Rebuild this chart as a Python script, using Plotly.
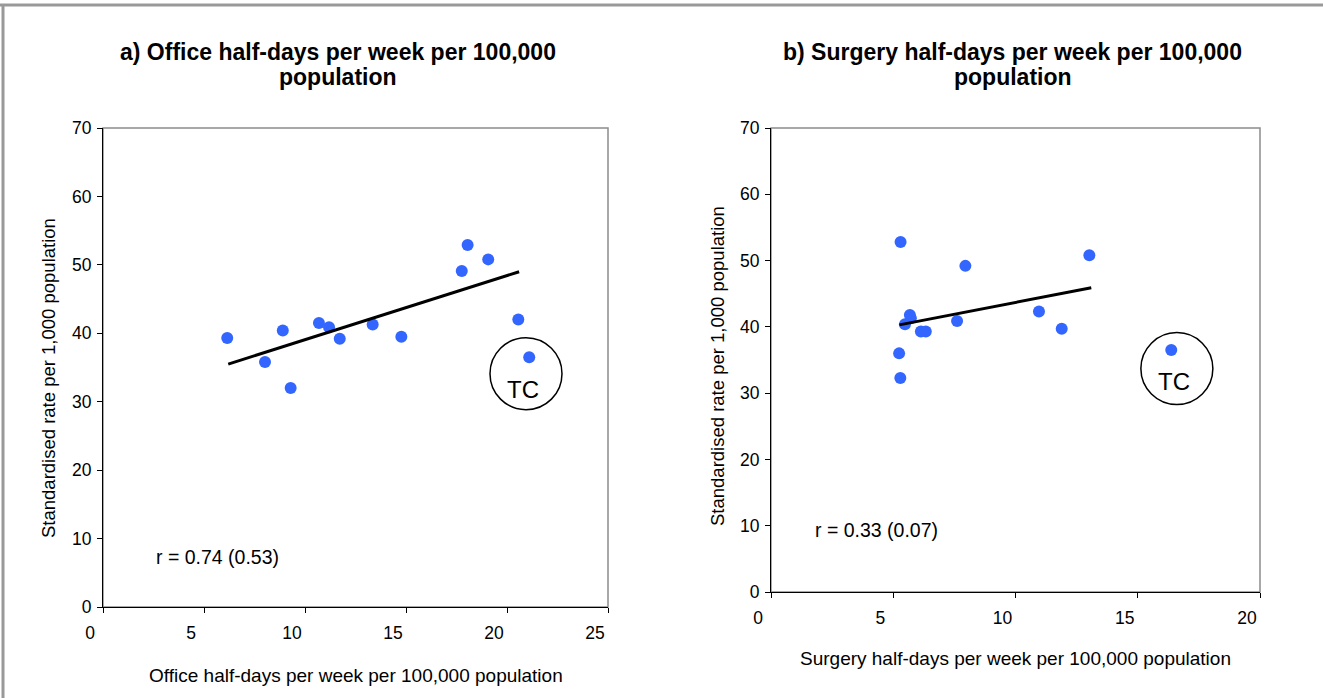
import plotly.graph_objects as go

W, H = 1323, 698

# ---------------- data ----------------
office_x = [6.15, 8.02, 8.90, 9.29, 10.69, 11.19, 11.72, 13.35, 14.77, 17.76, 18.05, 19.07, 20.56]
office_y = [39.3, 35.8, 40.4, 32.0, 41.5, 40.9, 39.2, 41.3, 39.5, 49.1, 52.9, 50.8, 42.0]
office_tc_x = [21.10]
office_tc_y = [36.5]
office_trend_x = [6.2, 20.6]
office_trend_y = [35.5, 49.0]

surgery_x = [5.24, 5.29, 5.48, 5.68, 5.72, 6.13, 6.33, 7.61, 7.95, 10.96, 11.89, 13.02, 5.30]
surgery_y = [36.0, 32.3, 40.4, 41.8, 41.3, 39.3, 39.3, 40.9, 49.2, 42.3, 39.7, 50.8, 52.8]
surgery_tc_x = [16.37]
surgery_tc_y = [36.5]
surgery_trend_x = [5.25, 13.1]
surgery_trend_y = [40.3, 45.9]

y_ticks = [0, 10, 20, 30, 40, 50, 60, 70]
office_x_ticks = [0, 5, 10, 15, 20, 25]
surgery_x_ticks = [0, 5, 10, 15, 20]

title_a = ["<b>a) Office half-days per week per 100,000</b>", "<b>population</b>"]
title_b = ["<b>b) Surgery half-days per week per 100,000</b>", "<b>population</b>"]
xlab_a = "Office half-days per week per 100,000 population"
xlab_b = "Surgery half-days per week per 100,000 population"
ylab = "Standardised rate per 1,000 population"
r_a = "r = 0.74 (0.53)"
r_b = "r = 0.33 (0.07)"

# ---------------- layout helpers (pixel -> paper) ----------------
def px(x):
    return x / W

def py(y):
    return 1 - y / H

FONT = "Liberation Sans, Arial, sans-serif"
BLUE = "#3366ff"

fig = go.Figure()

# left panel
fig.add_trace(go.Scatter(x=office_x + office_tc_x, y=office_y + office_tc_y, mode="markers",
                         marker=dict(color=BLUE, size=12), xaxis="x", yaxis="y", showlegend=False))
fig.add_trace(go.Scatter(x=office_trend_x, y=office_trend_y, mode="lines",
                         line=dict(color="black", width=3), xaxis="x", yaxis="y", showlegend=False))
# right panel
fig.add_trace(go.Scatter(x=surgery_x + surgery_tc_x, y=surgery_y + surgery_tc_y, mode="markers",
                         marker=dict(color=BLUE, size=12), xaxis="x2", yaxis="y2", showlegend=False))
fig.add_trace(go.Scatter(x=surgery_trend_x, y=surgery_trend_y, mode="lines",
                         line=dict(color="black", width=3), xaxis="x2", yaxis="y2", showlegend=False))

axis_common = dict(showgrid=False, zeroline=False, showline=True, linecolor="black", linewidth=1,
                   ticks="outside", ticklen=5, tickcolor="black", tickwidth=1,
                   tickfont=dict(family=FONT, size=17.5, color="black"))

fig.update_layout(
    width=W, height=H,
    margin=dict(l=0, r=0, t=0, b=0, autoexpand=False),
    paper_bgcolor="white", plot_bgcolor="white",
    xaxis=dict(domain=[px(103), px(608)], range=[0, 25], tickvals=office_x_ticks, anchor="y",
               ticklabelshift=-13, ticklabelstandoff=5, **axis_common),
    yaxis=dict(domain=[py(607), py(128)], range=[0, 70], tickvals=y_ticks, anchor="x",
               ticklabelstandoff=2, **axis_common),
    xaxis2=dict(domain=[px(771), px(1260)], range=[0, 20], tickvals=surgery_x_ticks, anchor="y2",
                ticklabelshift=-13, ticklabelstandoff=5, **axis_common),
    yaxis2=dict(domain=[py(592), py(128)], range=[0, 70], tickvals=y_ticks, anchor="x2",
                ticklabelstandoff=2, **axis_common),
)

shapes = []
# gray plot-area frames (top/right visible)
for xr, yr in (("x domain", "y domain"), ("x2 domain", "y2 domain")):
    shapes.append(dict(type="rect", xref=xr, yref=yr, x0=0, x1=1, y0=0, y1=1,
                       line=dict(color="#8c8c8c", width=1.5), layer="below"))
# TC circles
shapes.append(dict(type="circle", xref="x", yref="y", xsizemode="pixel", ysizemode="pixel",
                   xanchor=20.94, yanchor=34.1, x0=-36, x1=36, y0=-36, y1=36,
                   line=dict(color="black", width=1.5)))
shapes.append(dict(type="circle", xref="x2", yref="y2", xsizemode="pixel", ysizemode="pixel",
                   xanchor=16.6, yanchor=33.7, x0=-36, x1=36, y0=-36, y1=36,
                   line=dict(color="black", width=1.5)))
# outer page border (top and left)
shapes.append(dict(type="line", xref="paper", yref="paper", x0=0, x1=1, y0=py(5), y1=py(5),
                   line=dict(color="#999999", width=3)))
shapes.append(dict(type="line", xref="paper", yref="paper", x0=px(3), x1=px(3), y0=0, y1=py(4),
                   line=dict(color="#999999", width=3)))
fig.update_layout(shapes=shapes)

ann = []
tfont = dict(family=FONT, size=23, color="black")
for (line, yy) in zip(title_a, (52, 77)):
    ann.append(dict(text=line, x=px(338), y=py(yy), xref="paper", yref="paper", showarrow=False,
                    font=tfont, xanchor="center", yanchor="middle"))
for (line, yy) in zip(title_b, (52, 77)):
    ann.append(dict(text=line, x=px(1013), y=py(yy), xref="paper", yref="paper", showarrow=False,
                    font=tfont, xanchor="center", yanchor="middle"))
lfont = dict(family=FONT, size=19, color="black")
ann.append(dict(text=xlab_a, x=0.5, y=py(675), xref="x domain", yref="paper", showarrow=False,
                font=lfont, xanchor="center", yanchor="middle"))
ann.append(dict(text=xlab_b, x=0.5, y=py(658), xref="x2 domain", yref="paper", showarrow=False,
                font=lfont, xanchor="center", yanchor="middle"))
yfont = dict(family=FONT, size=18.5, color="black")
ann.append(dict(text=ylab, x=px(48), y=py(378), xref="paper", yref="paper", showarrow=False,
                font=yfont, textangle=-90, xanchor="center", yanchor="middle"))
ann.append(dict(text=ylab, x=px(718), y=py(366), xref="paper", yref="paper", showarrow=False,
                font=yfont, textangle=-90, xanchor="center", yanchor="middle"))
rfont = dict(family=FONT, size=19.5, color="black")
ann.append(dict(text=r_a, x=2.5, y=7.3, xref="x", yref="y", showarrow=False,
                font=rfont, xanchor="left", yanchor="middle"))
ann.append(dict(text=r_b, x=1.7, y=9.35, xref="x2", yref="y2", showarrow=False,
                font=rfont, xanchor="left", yanchor="middle"))
tcfont = dict(family=FONT, size=24, color="black")
ann.append(dict(text="TC", x=20.8, y=31.8, xref="x", yref="y", showarrow=False,
                font=tcfont, xanchor="center", yanchor="middle"))
ann.append(dict(text="TC", x=16.48, y=31.7, xref="x2", yref="y2", showarrow=False,
                font=tcfont, xanchor="center", yanchor="middle"))
fig.update_layout(annotations=ann)

# remove the default page margin so the figure sits at the window's top-left corner
page_css = ("document.documentElement.style.margin='0';"
            "document.body.style.margin='0';"
            "document.body.style.overflow='hidden';")

fig.write_html("out.html", post_script=page_css, config={"displayModeBar": False})
